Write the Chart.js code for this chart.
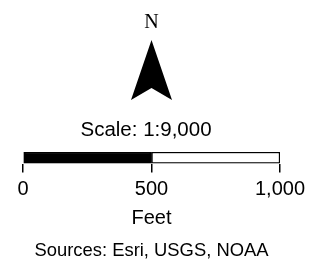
<!DOCTYPE html>
<html>
<head>
<meta charset="utf-8">
<script src="https://cdn.jsdelivr.net/npm/chart.js@4.4.1/dist/chart.umd.min.js"></script>
<style>
html,body{margin:0;padding:0;background:#fff;}
#wrap{width:312px;height:265px;}
</style>
</head>
<body>
<div id="wrap"><canvas id="c" width="312" height="265"></canvas></div>
<script>
// Data
const categories = [''];
const firstSegment = [500];   // feet, filled black
const secondSegment = [500];  // feet, white
const tickValues = [0, 500, 1000];
const tickLabels = ['0', '500', '1,000'];
const scaleText = 'Scale: 1:9,000';
const unitText = 'Feet';
const sourcesText = 'Sources: Esri, USGS, NOAA';
const northText = 'N';

const SANS = '"Liberation Sans", Arial, sans-serif';

const northArrow = {
  id: 'northArrow',
  afterDraw(chart) {
    const ctx = chart.ctx;
    const a = chart.chartArea;
    const cx = (a.left + a.right) / 2;
    ctx.save();
    ctx.fillStyle = '#000';
    ctx.font = '20px "Liberation Serif", "Times New Roman", serif';
    ctx.textAlign = 'center';
    ctx.textBaseline = 'alphabetic';
    ctx.fillText(northText, cx, 28);
    ctx.beginPath();
    ctx.moveTo(cx, 40);
    ctx.lineTo(cx + 20.5, 100);
    ctx.lineTo(cx, 88);
    ctx.lineTo(cx - 20.5, 100);
    ctx.closePath();
    ctx.fill();
    ctx.font = '20.5px ' + SANS;
    ctx.textBaseline = 'alphabetic';
    ctx.fillText(scaleText, cx - 5.5, 135.5);
    ctx.restore();
  }
};

new Chart(document.getElementById('c'), {
  type: 'bar',
  data: {
    labels: categories,
    datasets: [
      { data: firstSegment, backgroundColor: '#000', borderColor: '#000', borderWidth: 1.5, borderSkipped: false },
      { data: secondSegment, backgroundColor: '#fff', borderColor: '#000', borderWidth: 1.5, borderSkipped: false }
    ]
  },
  options: {
    indexAxis: 'y',
    responsive: false,
    animation: false,
    devicePixelRatio: 1,
    layout: { padding: { left: 23, right: 32, top: 152, bottom: 0 } },
    datasets: { bar: { barPercentage: 1, categoryPercentage: 1 } },
    scales: {
      y: { display: false, stacked: true },
      x: {
        stacked: true,
        min: 0, max: 1000,
        afterBuildTicks(scale) { scale.ticks = tickValues.map(v => ({ value: v })); },
        afterFit(scale) { scale.height = 66.7; },
        border: { display: false },
        grid: { drawOnChartArea: false, drawTicks: true, tickLength: 9, color: '#000', lineWidth: 1.5 },
        ticks: {
          padding: 4.5,
          color: '#000',
          maxRotation: 0,
          autoSkip: false,
          font: { family: SANS, size: 20 },
          callback: (v, i) => tickLabels[i]
        },
        title: {
          display: true, text: unitText, color: '#000',
          padding: { top: 4, bottom: 0 },
          font: { family: SANS, size: 20 }
        }
      }
    },
    plugins: {
      legend: { display: false },
      tooltip: { enabled: false },
      title: { display: false },
      subtitle: {
        display: true, position: 'bottom', text: sourcesText, color: '#000',
        padding: { top: 9.7, bottom: 3 },
        font: { family: SANS, size: 18.4 }
      }
    }
  },
  plugins: [northArrow]
});
</script>
</body>
</html>
